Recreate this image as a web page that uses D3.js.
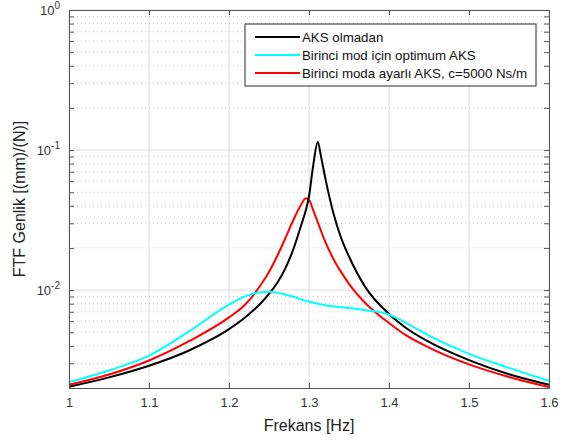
<!DOCTYPE html>
<html>
<head>
<meta charset="utf-8">
<script src="https://cdn.jsdelivr.net/npm/d3@7"></script>
<style>
  body { margin: 0; background: #fff; }
  text { font-family: "Liberation Sans", Arial, Helvetica, sans-serif; }
</style>
</head>
<body>
<div class="chart"></div>
<script>
var freq = [1.00, 1.05, 1.10, 1.15, 1.20, 1.22, 1.24, 1.25, 1.26, 1.27, 1.28, 1.29, 1.296, 1.30, 1.305, 1.311, 1.315, 1.32, 1.33, 1.34, 1.35, 1.37, 1.40, 1.42, 1.45, 1.50, 1.55, 1.60];

var aksYok = [0.002042, 0.002382, 0.002884, 0.003707, 0.005260, 0.006368, 0.008091, 0.009397, 0.011194, 0.014125, 0.019275, 0.028840, 0.037154, 0.046774, 0.075858, 0.114370, 0.090157, 0.064565, 0.036308, 0.023714, 0.017378, 0.010593, 0.006745, 0.005433, 0.004266, 0.003162, 0.002506, 0.002109];

var optimumAks = [0.002203, 0.002667, 0.003404, 0.005070, 0.007870, 0.009016, 0.009661, 0.009750, 0.009594, 0.009290, 0.008995, 0.008590, 0.008375, 0.008279, 0.008147, 0.007998, 0.007907, 0.007798, 0.007656, 0.007551, 0.007447, 0.007211, 0.006683, 0.005888, 0.004732, 0.003508, 0.002786, 0.002249];

var ayarliAks = [0.002109, 0.002495, 0.003141, 0.004315, 0.006383, 0.007852, 0.010965, 0.013490, 0.017378, 0.023174, 0.031261, 0.040738, 0.045186, 0.044157, 0.037584, 0.030479, 0.026485, 0.022336, 0.016904, 0.013490, 0.011092, 0.008128, 0.005821, 0.004808, 0.003890, 0.002951, 0.002399, 0.002030];

var seriesNames = ["AKS olmadan", "Birinci mod için optimum AKS", "Birinci moda ayarlı AKS, c=5000 Ns/m"];
var seriesColors = ["#000000", "#00ffff", "#ff0000"];
var xTicks = [1, 1.1, 1.2, 1.3, 1.4, 1.5, 1.6];
var yDecades = [1e-2, 1e-1, 1];
var yExponents = ["-2", "-1", "0"];

var svgWidth = 570;
var svgHeight = 443;
var margin = { top: 10, right: 21, bottom: 55, left: 69 };
var width = svgWidth - margin.left - margin.right;
var height = svgHeight - margin.top - margin.bottom;

var svg = d3.select(".chart")
    .append("svg")
    .attr("width", svgWidth)
    .attr("height", svgHeight)
    .append("g")
    .attr("transform", "translate(" + margin.left + "," + margin.top + ")");

var x = d3.scaleLinear().domain([1, 1.6]).range([0, width]);
var y = d3.scaleLog().domain([0.002, 1]).range([height, 0]);

// minor values for log axis
var minorVals = [];
[0.001, 0.01, 0.1].forEach(function(d) {
    for (var k = 2; k <= 9; k++) {
        var v = d * k;
        if (v >= 0.002 && v < 1) minorVals.push(v);
    }
});

// grid
var grid = svg.append("g");
grid.selectAll(".minor").data(minorVals).enter().append("line")
    .attr("x1", 0).attr("x2", width)
    .attr("y1", function(d) { return y(d); })
    .attr("y2", function(d) { return y(d); })
    .attr("stroke", "#c8c8c8")
    .attr("stroke-width", 1)
    .attr("stroke-dasharray", "1,3");
grid.selectAll(".majy").data(yDecades).enter().append("line")
    .attr("x1", 0).attr("x2", width)
    .attr("y1", function(d) { return y(d); })
    .attr("y2", function(d) { return y(d); })
    .attr("stroke", "#dcdcdc");
grid.selectAll(".majx").data(xTicks).enter().append("line")
    .attr("y1", 0).attr("y2", height)
    .attr("x1", function(d) { return x(d); })
    .attr("x2", function(d) { return x(d); })
    .attr("stroke", "#dcdcdc");

// curves
var line = d3.line()
    .x(function(d) { return x(d[0]); })
    .y(function(d) { return y(d[1]); })
    .curve(d3.curveMonotoneX);

var allSeries = [aksYok, optimumAks, ayarliAks];
var drawOrder = [2, 0, 1];
drawOrder.forEach(function(i) {
    svg.append("path")
        .datum(freq.map(function(f, j) { return [f, allSeries[i][j]]; }))
        .attr("fill", "none")
        .attr("stroke", seriesColors[i])
        .attr("stroke-width", 2)
        .attr("d", line);
});

// axes
var axisColor = "#555";
var bottomAxis = d3.axisBottom(x).tickValues(xTicks).tickSize(-5).tickPadding(10)
    .tickFormat(function(d) { return d3.format("")(+d.toFixed(1)); });
var topAxis = d3.axisTop(x).tickValues(xTicks).tickSize(-5).tickFormat("");
var leftAxis = d3.axisLeft(y).tickValues(yDecades.concat(minorVals)).tickSize(-5).tickFormat("");
var rightAxis = d3.axisRight(y).tickValues(yDecades.concat(minorVals)).tickSize(-5).tickFormat("");

function styleAxis(g) {
    g.selectAll("path").attr("stroke", axisColor);
    g.selectAll("line").attr("stroke", axisColor);
    g.selectAll("text").attr("fill", "#333").style("font-size", "13px")
        .style("font-family", "'Liberation Sans', Arial, sans-serif");
}

svg.append("g").attr("transform", "translate(0," + height + ")").call(bottomAxis).call(styleAxis);
svg.append("g").call(topAxis).call(styleAxis);
svg.append("g").call(leftAxis).call(styleAxis);
svg.append("g").attr("transform", "translate(" + width + ",0)").call(rightAxis).call(styleAxis);

// y tick labels 10^n
var yLab = svg.append("g");
yDecades.forEach(function(d, i) {
    var t = yLab.append("text")
        .attr("x", -9)
        .attr("y", y(d) + 5)
        .attr("text-anchor", "end")
        .attr("fill", "#333")
        .style("font-size", "13px");
    t.append("tspan").text("10");
    t.append("tspan").attr("dy", -6).style("font-size", "10px").text(yExponents[i]);
});

// axis titles
svg.append("text")
    .attr("transform", "rotate(-90)")
    .attr("x", -height / 2)
    .attr("y", -44)
    .attr("text-anchor", "middle")
    .attr("fill", "#222")
    .style("font-size", "16px")
    .text("FTF Genlik [(mm)/(N)]");

svg.append("text")
    .attr("x", width / 2)
    .attr("y", height + 43)
    .attr("text-anchor", "middle")
    .attr("fill", "#222")
    .style("font-size", "16px")
    .text("Frekans [Hz]");

// legend
var lg = svg.append("g").attr("transform", "translate(" + (245 - margin.left) + "," + (24 - margin.top) + ")");
lg.append("rect")
    .attr("width", 291).attr("height", 62)
    .attr("fill", "#fff")
    .attr("stroke", "#262626");
seriesNames.forEach(function(n, i) {
    var yy = 13 + i * 18;
    lg.append("line")
        .attr("x1", 10).attr("x2", 55)
        .attr("y1", yy).attr("y2", yy)
        .attr("stroke", seriesColors[i])
        .attr("stroke-width", 2);
    lg.append("text")
        .attr("x", 57).attr("y", yy + 5)
        .attr("fill", "#111")
        .style("font-size", "13.3px")
        .text(n);
});
</script>
</body>
</html>
